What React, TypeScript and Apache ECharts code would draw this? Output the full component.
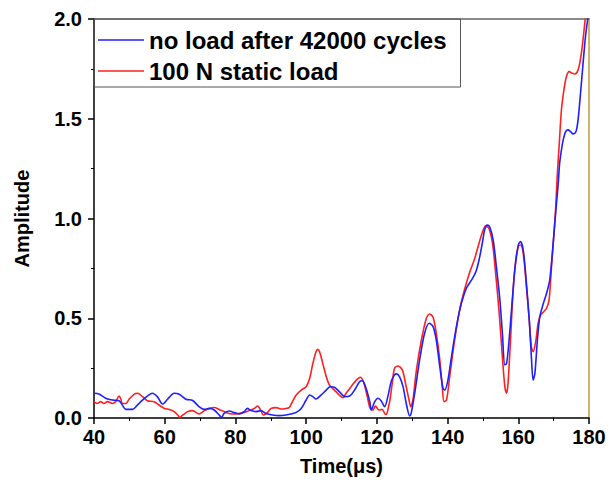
import React, { useEffect, useRef } from "react";
import * as echarts from "echarts";

const seriesNames = ["no load after 42000 cycles", "100 N static load"];

const timeNoLoad = [
  40.0, 41.4, 43.3, 45.2, 47.1, 48.0, 49.0, 50.9, 52.3, 53.7, 55.1, 56.5, 57.9, 59.4, 60.8, 62.7, 64.1, 66.0, 67.9,
  69.7, 71.2, 72.6, 74.0, 75.4, 76.1, 76.8, 78.2, 79.7, 81.1, 82.5, 83.4, 84.4, 85.8, 87.2, 88.6, 90.5, 92.4, 94.3,
  95.7, 97.2, 98.6, 100.0, 101.0, 101.9, 102.8, 104.2, 105.7, 106.8, 108.0, 109.4, 110.9, 112.3, 113.7, 115.1, 115.9,
  116.8, 118.0, 118.4, 119.4, 120.3, 121.2, 122.2, 123.1, 124.1, 125.0, 125.5, 126.4, 127.4, 128.3, 129.3, 129.7,
  130.7, 132.1, 133.5, 134.8, 135.9, 136.8, 137.8, 138.7, 139.2, 140.1, 141.1, 142.5, 143.9, 145.3, 146.8, 148.0,
  148.9, 149.9, 150.5, 151.2, 151.9, 152.9, 153.8, 154.8, 155.5, 156.2, 156.7, 157.4, 158.3, 159.0, 160.0, 160.6,
  161.4, 162.3, 163.1, 163.7, 164.2, 164.7, 165.4, 166.1, 167.1, 168.0, 168.9, 169.7, 170.4, 170.8, 171.3, 171.7,
  172.2, 172.7, 173.4, 174.1, 174.8, 175.5, 176.3, 176.9, 177.6, 178.4, 179.0, 179.6, 180.0,
];
const ampNoLoad = [
  0.124, 0.12, 0.099, 0.09, 0.087, 0.065, 0.043, 0.043, 0.065, 0.09, 0.11, 0.124, 0.107, 0.07, 0.094, 0.124, 0.119,
  0.094, 0.088, 0.057, 0.043, 0.048, 0.04, 0.015, 0.003, 0.023, 0.035, 0.027, 0.02, 0.032, 0.048, 0.037, 0.032, 0.037,
  0.023, 0.015, 0.012, 0.015, 0.02, 0.028, 0.048, 0.09, 0.115, 0.107, 0.095, 0.115, 0.14, 0.157, 0.154, 0.132, 0.107,
  0.11, 0.14, 0.182, 0.187, 0.157, 0.082, 0.04, 0.082, 0.099, 0.087, 0.057, 0.107, 0.185, 0.216, 0.221, 0.207, 0.157,
  0.074, 0.01, 0.023, 0.124, 0.291, 0.425, 0.475, 0.458, 0.391, 0.257, 0.149, 0.14, 0.19, 0.307, 0.458, 0.575, 0.65,
  0.692, 0.733, 0.792, 0.884, 0.945, 0.967, 0.959, 0.892, 0.759, 0.591, 0.425, 0.266, 0.274, 0.391, 0.591, 0.742,
  0.867, 0.884, 0.842, 0.675, 0.491, 0.307, 0.19, 0.224, 0.391, 0.508, 0.575, 0.625, 0.692, 0.842, 0.992, 1.076,
  1.176, 1.277, 1.343, 1.393, 1.435, 1.444, 1.435, 1.424, 1.435, 1.494, 1.627, 1.794, 1.911, 1.995, 2.06,
];

const timeStatic = [
  40.0, 40.9, 41.9, 42.8, 43.8, 45.2, 46.1, 47.1, 47.6, 48.0, 49.0, 49.9, 51.4, 52.3, 53.7, 55.1, 57.0, 58.4, 59.9,
  61.3, 62.7, 63.7, 64.3, 65.1, 66.5, 67.9, 69.7, 71.2, 72.6, 74.0, 75.4, 76.8, 78.2, 79.7, 81.1, 82.5, 83.9, 85.3,
  86.3, 87.2, 87.9, 88.8, 90.1, 91.5, 92.9, 94.3, 95.2, 96.2, 97.2, 98.6, 100.0, 101.0, 101.9, 102.8, 103.3, 103.8,
  104.7, 105.7, 106.6, 108.0, 109.4, 110.4, 111.3, 112.7, 114.2, 115.3, 116.2, 117.2, 118.1, 118.9, 119.6, 120.6,
  121.5, 122.2, 122.7, 123.3, 123.7, 124.4, 125.0, 126.0, 127.2, 128.1, 129.1, 129.6, 130.2, 131.2, 132.6, 134.0,
  134.9, 135.9, 136.8, 137.8, 138.5, 139.0, 139.7, 140.6, 142.0, 143.4, 144.9, 146.3, 147.7, 148.9, 149.9, 150.8,
  151.7, 152.7, 153.6, 154.6, 155.5, 156.2, 156.7, 157.1, 157.8, 158.5, 159.3, 160.0, 160.6, 161.4, 162.3, 163.1,
  163.7, 164.2, 165.0, 165.6, 166.3, 167.2, 168.0, 168.7, 169.4, 170.1, 170.6, 171.0, 171.6, 172.2, 172.9, 173.6,
  174.4, 175.0, 176.0, 176.9, 177.7, 178.4, 179.0, 179.5,
];
const ampStatic = [
  0.082, 0.073, 0.082, 0.073, 0.082, 0.073, 0.082, 0.11, 0.094, 0.073, 0.073, 0.094, 0.12, 0.124, 0.107, 0.087, 0.082,
  0.065, 0.048, 0.043, 0.032, 0.015, 0.003, 0.015, 0.032, 0.037, 0.02, 0.037, 0.048, 0.053, 0.043, 0.032, 0.023, 0.02,
  0.023, 0.028, 0.037, 0.048, 0.06, 0.037, 0.015, 0.023, 0.048, 0.052, 0.045, 0.048, 0.052, 0.085, 0.115, 0.14, 0.157,
  0.199, 0.274, 0.332, 0.344, 0.332, 0.274, 0.207, 0.165, 0.14, 0.115, 0.102, 0.124, 0.157, 0.19, 0.204, 0.182, 0.115,
  0.048, 0.04, 0.06, 0.04, 0.043, 0.023, 0.018, 0.057, 0.09, 0.18, 0.249, 0.261, 0.241, 0.174, 0.09, 0.057, 0.09,
  0.241, 0.391, 0.5, 0.521, 0.505, 0.425, 0.291, 0.157, 0.082, 0.09, 0.207, 0.391, 0.541, 0.65, 0.733, 0.801, 0.876,
  0.934, 0.962, 0.951, 0.876, 0.725, 0.525, 0.307, 0.157, 0.124, 0.174, 0.391, 0.625, 0.792, 0.859, 0.867, 0.825,
  0.658, 0.491, 0.357, 0.332, 0.391, 0.475, 0.516, 0.533, 0.55, 0.591, 0.759, 0.926, 1.059, 1.21, 1.377, 1.544, 1.644,
  1.711, 1.736, 1.731, 1.724, 1.744, 1.811, 1.911, 2.012, 2.1,
];

const xRange = [40, 180];
const yRange = [0, 2];

const FONT = "'Liberation Sans', Arial, Helvetica, sans-serif";

function pairs(xs: number[], ys: number[]) {
  return xs.map((x, i) => [x, ys[i]]);
}

export default function App() {
  const ref = useRef<HTMLDivElement>(null);
  useEffect(() => {
    if (!ref.current) return;
    const chart = echarts.init(ref.current, null, { renderer: "svg" });
    const labelStyle = { color: "#000", fontFamily: FONT, fontWeight: "bold" as const, fontSize: 20 };
    chart.setOption({
      animation: false,
      backgroundColor: "#fff",
      grid: { left: 94, right: 22, top: 19, bottom: 76, containLabel: false },
      legend: {
        orient: "vertical",
        left: 94,
        top: 19,
        padding: [7, 14, 2, 4],
        itemGap: 3,
        itemWidth: 46,
        itemHeight: 1.6,
        icon: "rect",
        borderColor: "#555",
        borderWidth: 1,
        data: seriesNames,
        textStyle: { color: "#000", fontFamily: FONT, fontWeight: "bold", fontSize: 24, lineHeight: 28 },
      },
      xAxis: [
        {
          type: "value",
          min: xRange[0],
          max: xRange[1],
          interval: 20,
          position: "bottom",
          name: "Time(\u03bcs)",
          nameLocation: "middle",
          nameGap: 38,
          nameTextStyle: labelStyle,
          axisLine: { show: true, onZero: false, lineStyle: { color: "#000", width: 1.5 } },
          axisTick: { show: true, inside: false, length: 6, lineStyle: { color: "#000", width: 1.5 } },
          minorTick: { show: true, splitNumber: 2, length: 3, lineStyle: { color: "#000", width: 1 } },
          axisLabel: { ...labelStyle, margin: 9 },
          splitLine: { show: false },
        },
        {
          type: "value",
          min: xRange[0],
          max: xRange[1],
          position: "top",
          axisLine: { show: true, onZero: false, lineStyle: { color: "#666", width: 1.5 } },
          axisTick: { show: false },
          axisLabel: { show: false },
          splitLine: { show: false },
        },
      ],
      yAxis: [
        {
          type: "value",
          min: yRange[0],
          max: yRange[1],
          interval: 0.5,
          position: "left",
          name: "Amplitude",
          nameLocation: "middle",
          nameGap: 62,
          nameTextStyle: labelStyle,
          axisLine: { show: true, onZero: false, lineStyle: { color: "#000", width: 1.5 } },
          axisTick: { show: true, inside: false, length: 6, lineStyle: { color: "#000", width: 1.5 } },
          minorTick: { show: true, splitNumber: 2, length: 3, lineStyle: { color: "#000", width: 1 } },
          axisLabel: { ...labelStyle, margin: 12, formatter: (v: number) => v.toFixed(1) },
          splitLine: { show: false },
        },
        {
          type: "value",
          min: yRange[0],
          max: yRange[1],
          position: "right",
          axisLine: { show: true, onZero: false, lineStyle: { color: "#c09a3c", width: 1.5 } },
          axisTick: { show: false },
          axisLabel: { show: false },
          splitLine: { show: false },
        },
      ],
      series: [
        {
          name: seriesNames[0],
          type: "line",
          data: pairs(timeNoLoad, ampNoLoad),
          smooth: 0.3,
          symbol: "none",
          clip: true,
          lineStyle: { color: "#1f1fff", width: 1.6 },
          itemStyle: { color: "#1f1fff" },
          z: 3,
        },
        {
          name: seriesNames[1],
          type: "line",
          data: pairs(timeStatic, ampStatic),
          smooth: 0.3,
          symbol: "none",
          clip: true,
          lineStyle: { color: "#ff1f1f", width: 1.6 },
          itemStyle: { color: "#ff1f1f" },
          z: 2,
        },
      ],
    });
    return () => chart.dispose();
  }, []);
  return (
    <div
      ref={ref}
      style={{ position: "fixed", left: 0, top: 0, width: 611, height: 494, background: "#fff" }}
    />
  );
}
